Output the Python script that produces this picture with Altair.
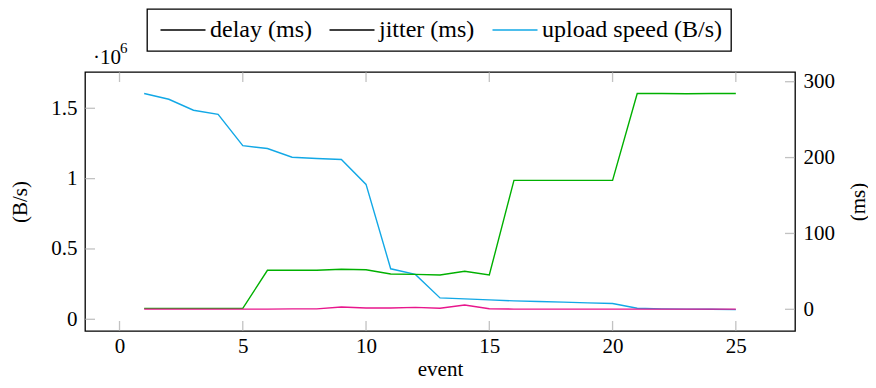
import altair as alt
import pandas as pd

# ---- data ----
events = list(range(1, 26))
upload_speed = [1.605e6, 1.564e6, 1.486e6, 1.457e6, 1.234e6, 1.214e6, 1.152e6, 1.143e6,
                1.136e6, 0.959e6, 0.359e6, 0.319e6, 0.152e6, 0.145e6, 0.138e6, 0.131e6,
                0.126e6, 0.122e6, 0.117e6, 0.112e6, 0.079e6, 0.074e6, 0.072e6, 0.071e6,
                0.069e6]
delay = [1.2, 1.2, 1.2, 1.2, 1.2, 51.4, 51.4, 51.4, 52.7, 52.2, 46.5, 46.1, 45.2, 50.1,
         45.2, 170, 170, 170, 170, 170, 284.5, 284.5, 284.2, 284.5, 284.5]
jitter = [0.3, 0.3, 0.3, 0.3, 0.3, 0.3, 0.6, 0.6, 3.0, 1.7, 1.7, 2.6, 1.3, 5.7, 0.8, 0.3,
          0.3, 0.3, 0.3, 0.3, 0.3, 0.3, 0.3, 0.3, 0.3]

series_names = ["delay (ms)", "jitter (ms)", "upload speed (B/s)"]
x_ticks = [0, 5, 10, 15, 20, 25]
left_ticks = [0, 0.5e6, 1.0e6, 1.5e6]
right_ticks = [0, 100, 200, 300]
exponent_base = ["·10"]
exponent_power = ["6"]

BLUE = "#12a8e6"
GREEN = "#00b000"
MAGENTA = "#e8168c"
TICK = "#a8a8a8"
FONT = "Liberation Serif"
FS = 21

W, H = 710, 259

df = pd.DataFrame({"event": events, "upload": upload_speed, "delay": delay, "jitter": jitter})

x_scale = alt.Scale(domain=[-1.4, 27.4], nice=False, zero=False)
left_scale = alt.Scale(domain=[-0.0832e6, 1.758e6], nice=False, zero=False)
right_scale = alt.Scale(domain=[-28.6, 312.8], nice=False, zero=False)

x_axis = alt.Axis(values=x_ticks, title="event", ticks=False, labelPadding=4, grid=False,
                  domain=False, titleX=W / 2, titleY=38, titleBaseline="middle",
                  titleAlign="center")
left_axis = alt.Axis(orient="left", values=left_ticks, labelExpr="datum.value / 1e6",
                     title="(B/s)", ticks=False, labelPadding=8, grid=False, domain=False,
                     titleAngle=270, titleX=-65, titleY=H / 2, titleBaseline="middle",
                     titleAlign="center")
right_axis = alt.Axis(orient="right", values=right_ticks, title="(ms)", ticks=False,
                      labelPadding=8, grid=False, domain=False, titleAngle=270,
                      titleX=63, titleY=H / 2, titleBaseline="middle", titleAlign="center")

X = alt.X("event:Q", scale=x_scale, axis=x_axis)

# upload speed line (left axis)
upload_line = alt.Chart(df).mark_line(color=BLUE, strokeWidth=1.4).encode(
    x=X,
    y=alt.Y("upload:Q", scale=left_scale, axis=left_axis),
)

# delay / jitter (right axis)
ms_line = alt.Chart(df).transform_fold(["delay", "jitter"], as_=["key", "ms"]).mark_line(
    strokeWidth=1.4).encode(
    x=X,
    y=alt.Y("ms:Q", scale=right_scale, axis=right_axis),
    color=alt.Color("key:N", scale=alt.Scale(domain=["delay", "jitter"],
                                             range=[GREEN, MAGENTA]), legend=None),
)

# legend-only layer (no rows drawn)
legend_df = pd.DataFrame({"series": series_names, "event": [1, 1, 1], "upload": [0, 0, 0]})
legend_layer = alt.Chart(legend_df).transform_filter("false").mark_line(strokeWidth=1.4).encode(
    x=X,
    y=alt.Y("upload:Q", scale=left_scale, axis=None),
    color=alt.Color(
        "series:N",
        scale=alt.Scale(domain=series_names, range=["black", "black", BLUE]),
        legend=alt.Legend(
            title=None, orient="none", legendX=62, legendY=-63, direction="horizontal",
            columns=3, strokeColor="black", padding=9, symbolType="M-3,0H3",
            symbolSize=225, symbolOffset=15, symbolStrokeWidth=1.4, labelFont=FONT,
            labelFontSize=24, labelColor="black", labelLimit=400, labelOffset=15,
            columnPadding=13,
        ),
    ),
)

xt_df = pd.DataFrame({"event": x_ticks})
x_ticks_bottom = alt.Chart(xt_df).mark_tick(color=TICK, thickness=1.3, size=10,
                                             orient="vertical").encode(
    x=X, y=alt.value(H - 5))
x_ticks_top = alt.Chart(xt_df).mark_tick(color=TICK, thickness=1.3, size=10,
                                          orient="vertical").encode(
    x=X, y=alt.value(5))

lt_df = pd.DataFrame({"v": left_ticks})
left_tick_marks = alt.Chart(lt_df).mark_tick(color=TICK, thickness=1.3, size=10,
                                              orient="horizontal").encode(
    y=alt.Y("v:Q", scale=left_scale, axis=None), x=alt.value(5))

rt_df = pd.DataFrame({"v": right_ticks})
right_tick_marks = alt.Chart(rt_df).mark_tick(color=TICK, thickness=1.3, size=10,
                                               orient="horizontal").encode(
    y=alt.Y("v:Q", scale=right_scale, axis=None), x=alt.value(W - 5))

exp_base = alt.Chart(pd.DataFrame({"t": exponent_base})).mark_text(
    align="left", baseline="middle", font=FONT, fontSize=FS, color="black").encode(
    text="t:N", x=alt.value(8), y=alt.value(-14))
exp_pow = alt.Chart(pd.DataFrame({"t": exponent_power})).mark_text(
    align="left", baseline="middle", font=FONT, fontSize=15, color="black").encode(
    text="t:N", x=alt.value(35), y=alt.value(-24))

chart = alt.layer(
    upload_line, ms_line, legend_layer, x_ticks_bottom, x_ticks_top,
    left_tick_marks, right_tick_marks, exp_base, exp_pow,
).resolve_scale(y="independent", color="independent").properties(
    width=W, height=H,
    autosize=alt.AutoSizeParams(type="none"),
    padding={"left": 77, "top": 64, "right": 73, "bottom": 49},
).configure_view(stroke="black", strokeWidth=1.3).configure_axis(
    labelFont=FONT, labelFontSize=FS, labelColor="black", titleFont=FONT,
    titleFontSize=FS, titleFontWeight="normal", titleColor="black",
).configure_legend(strokeWidth=1.3)

chart.save("out.html", embed_options={"renderer": "svg", "actions": False})
